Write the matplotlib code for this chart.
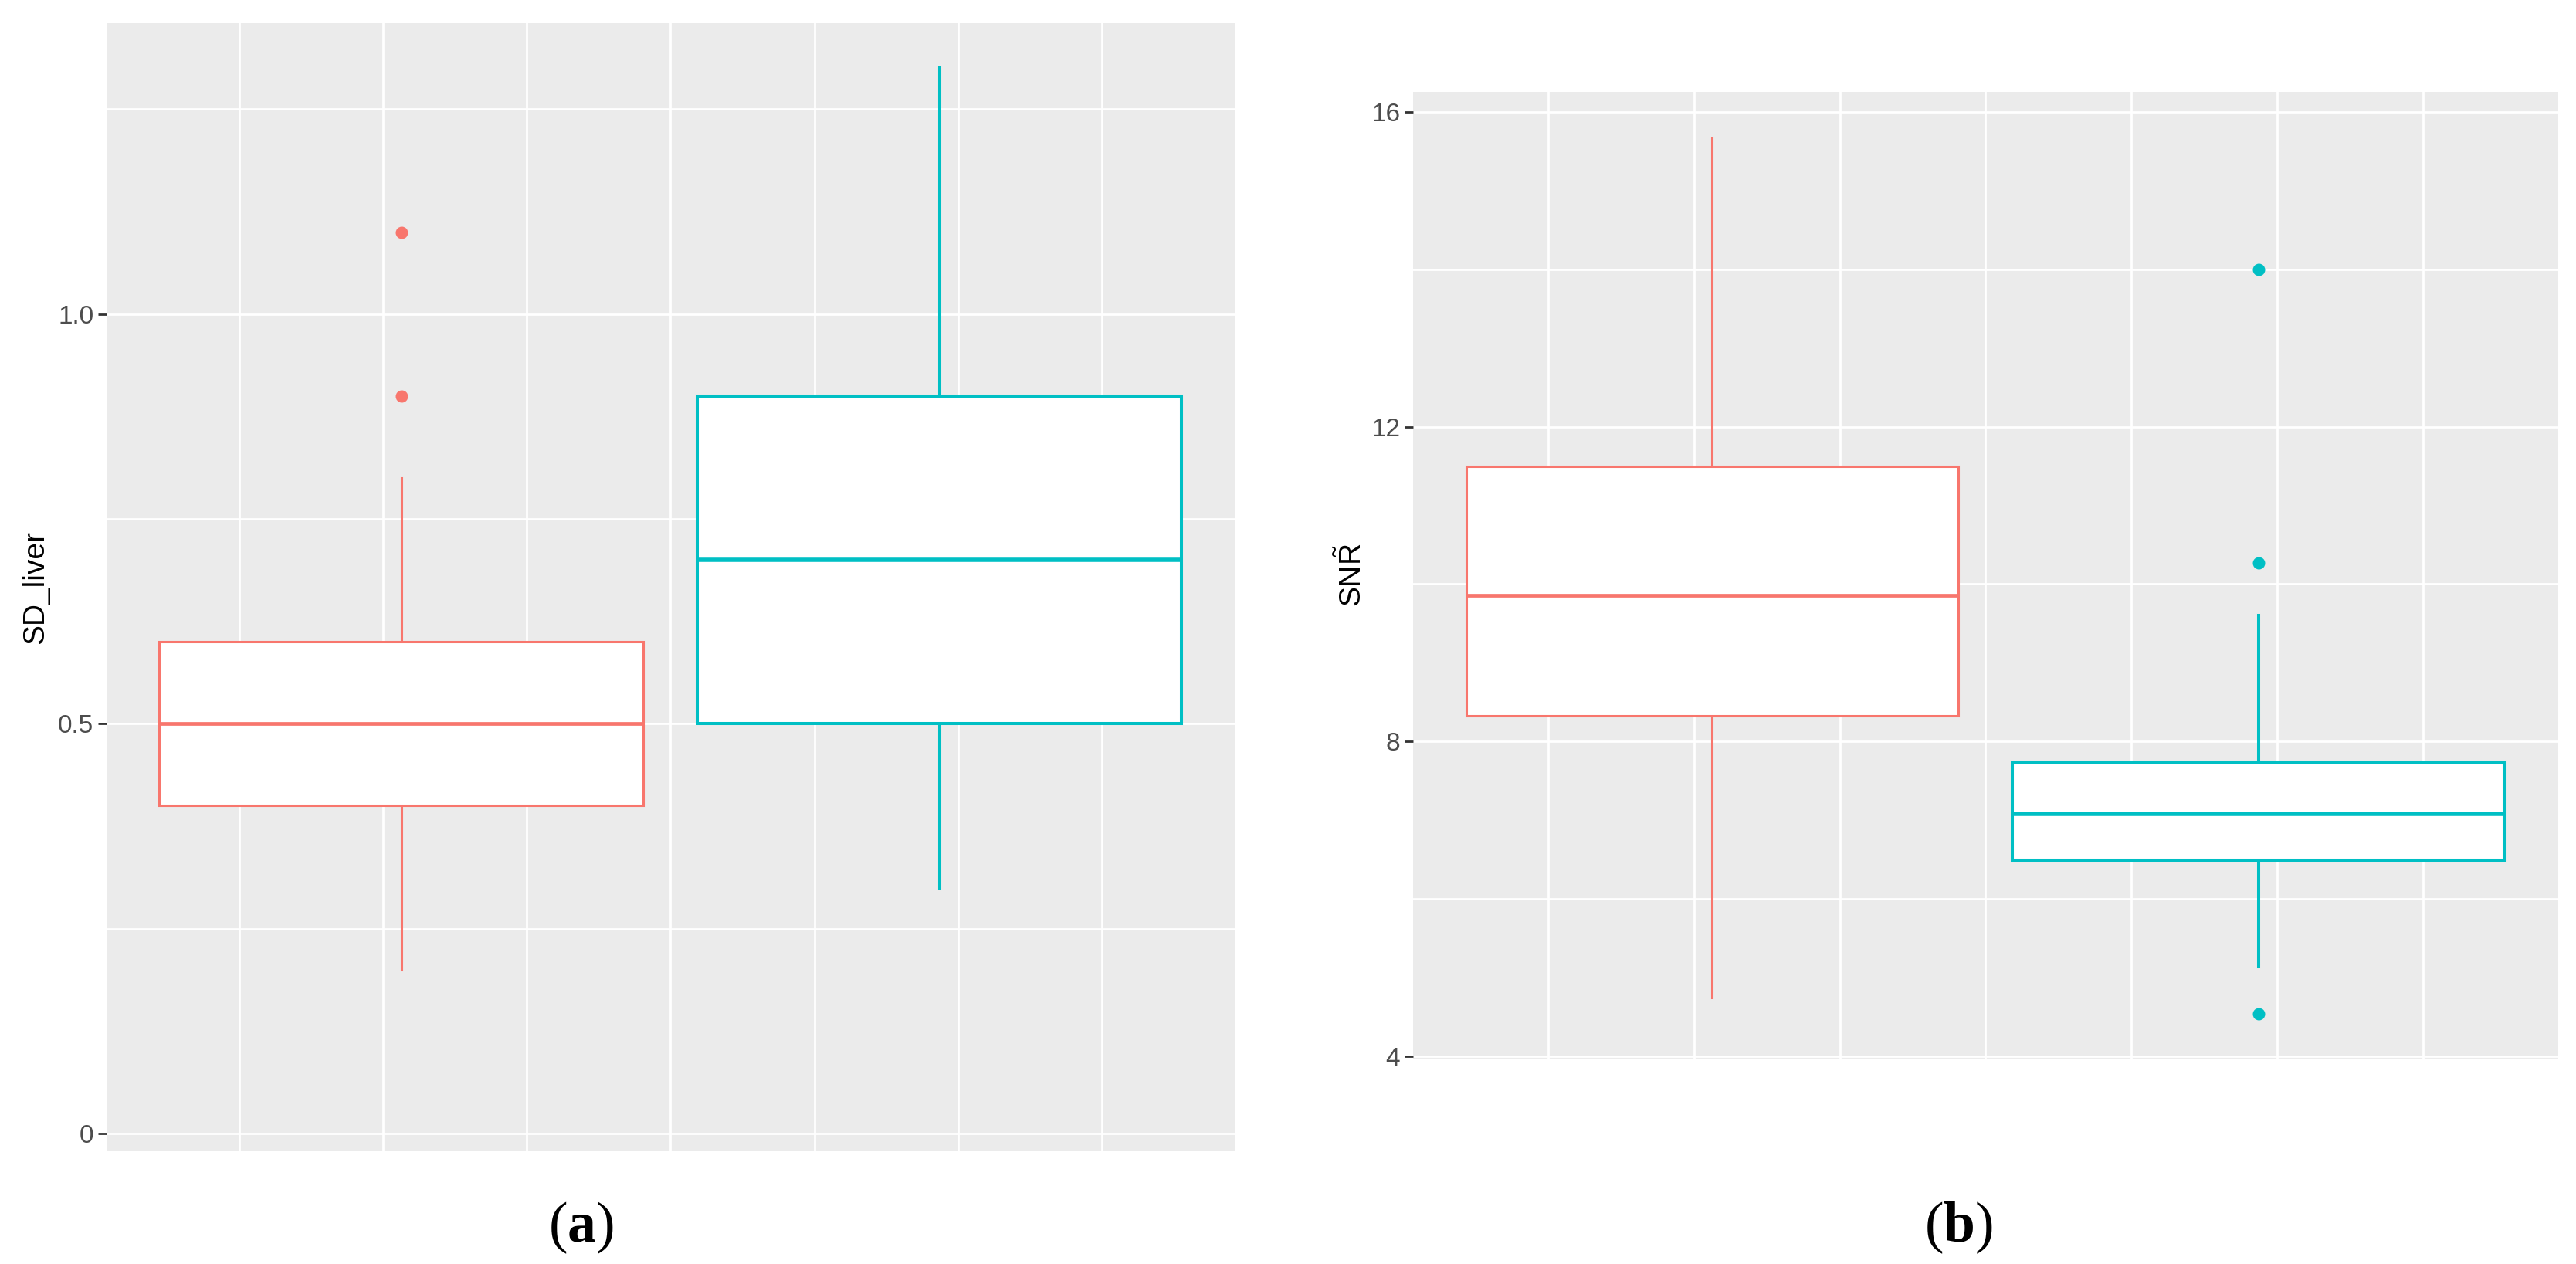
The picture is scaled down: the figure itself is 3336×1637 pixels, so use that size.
import matplotlib
matplotlib.use('Agg')
import matplotlib.pyplot as plt

plt.rcParams['font.family'] = ['Liberation Sans', 'DejaVu Sans']
plt.rcParams['mathtext.fontset'] = 'custom'
plt.rcParams['mathtext.rm'] = 'Liberation Sans'
plt.rcParams['mathtext.bf'] = 'Liberation Serif:bold'

W, H = 3337, 1637
DPI = 100

group_colors = ['#F8766D', '#00BFC4']

# ---- panel (a): SD_liver ----
sd_whislo = [0.2, 0.3]
sd_q1 = [0.4, 0.5]
sd_med = [0.5, 0.7]
sd_q3 = [0.6, 0.9]
sd_whishi = [0.8, 1.3]
sd_fliers = [[0.9, 1.1], []]
sd_ticks = [0.0, 0.5, 1.0]
sd_ticklabels = ['0', '0.5', '1.0']
sd_minor = [0.25, 0.75, 1.25]

# ---- panel (b): SNR ----
snr_whislo = [4.75, 5.14]
snr_q1 = [8.33, 6.49]
snr_med = [9.86, 7.08]
snr_q3 = [11.5, 7.74]
snr_whishi = [15.67, 9.6]
snr_fliers = [[], [4.54, 10.27, 14.0]]
snr_ticks = [4, 8, 12, 16]
snr_ticklabels = ['4', '8', '12', '16']
snr_minor = [6, 10, 14]

box_pos = [2.125, 5.87]
box_w = 3.37
x_grid = [1, 2, 3, 4, 5, 6, 7]


def px_rect(x0, y0, x1, y1):
    return [x0 / W, 1 - y1 / H, (x1 - x0) / W, (y1 - y0) / H]


def make_stats(whislo, q1, med, q3, whishi, fliers):
    return [dict(whislo=whislo[i], q1=q1[i], med=med[i], q3=q3[i],
                 whishi=whishi[i], fliers=fliers[i]) for i in range(len(med))]


def panel(ax, stats, ylim, ticks, ticklabels, minor):
    ax.set_facecolor('#EBEBEB')
    for s in ax.spines.values():
        s.set_visible(False)
    ax.set_axisbelow(True)
    bp = ax.bxp(stats, positions=box_pos, widths=box_w, patch_artist=True,
                showcaps=False, manage_ticks=False)
    lws = [2.2, 2.9]
    mlws = [3.4, 4.0]
    for i, c in enumerate(group_colors):
        bp['boxes'][i].set(facecolor='white', edgecolor=c, linewidth=lws[i], zorder=3)
        bp['medians'][i].set(color=c, linewidth=mlws[i], zorder=4, solid_capstyle='butt')
        for wk in bp['whiskers'][2 * i:2 * i + 2]:
            wk.set(color=c, linewidth=lws[i], zorder=2)
        bp['fliers'][i].set(marker='o', markerfacecolor=c, markeredgecolor=c,
                            markersize=10.5, zorder=4)
    ax.set_xlim(0.075, 7.925)
    ax.set_ylim(*ylim)
    ax.set_yticks(ticks)
    ax.set_yticklabels(ticklabels)
    ax.set_yticks(minor, minor=True)
    ax.set_xticks(x_grid)
    ax.set_xticklabels([])
    ax.tick_params(axis='x', length=0)
    ax.tick_params(axis='y', which='major', length=8, width=2, color='#333333',
                   labelcolor='#4D4D4D', labelsize=24, pad=4)
    ax.tick_params(axis='y', which='minor', length=0)
    ax.grid(True, which='both', color='white', linewidth=2.0)


fig = plt.figure(figsize=(W / DPI, H / DPI), dpi=DPI, facecolor='white')

ax_a = fig.add_axes(px_rect(138, 30, 1599, 1491))
panel(ax_a, make_stats(sd_whislo, sd_q1, sd_med, sd_q3, sd_whishi, sd_fliers),
      (-0.0217, 1.355), sd_ticks, sd_ticklabels, sd_minor)

ax_b = fig.add_axes(px_rect(1830, 119, 3313, 1371))
panel(ax_b, make_stats(snr_whislo, snr_q1, snr_med, snr_q3, snr_whishi, snr_fliers),
      (3.97, 16.255), snr_ticks, snr_ticklabels, snr_minor)

fig.text(64 / W, 1 - 760 / H, 'SD_liver', rotation=90, ha='right', va='center',
         fontsize=28, color='black')
fig.text(1771 / W, 1 - 745 / H, r'SN$\tilde{\mathrm{R}}$', rotation=90, ha='right',
         va='center', fontsize=28, color='black')

fig.text(752 / W, 1 - 1590 / H, r'($\mathbf{a}$)', family='Liberation Serif',
         fontsize=53, ha='center', va='center', color='black')
fig.text(2536 / W, 1 - 1590 / H, r'($\mathbf{b}$)', family='Liberation Serif',
         fontsize=53, ha='center', va='center', color='black')

fig.savefig('out.png', dpi=DPI, facecolor='white')
